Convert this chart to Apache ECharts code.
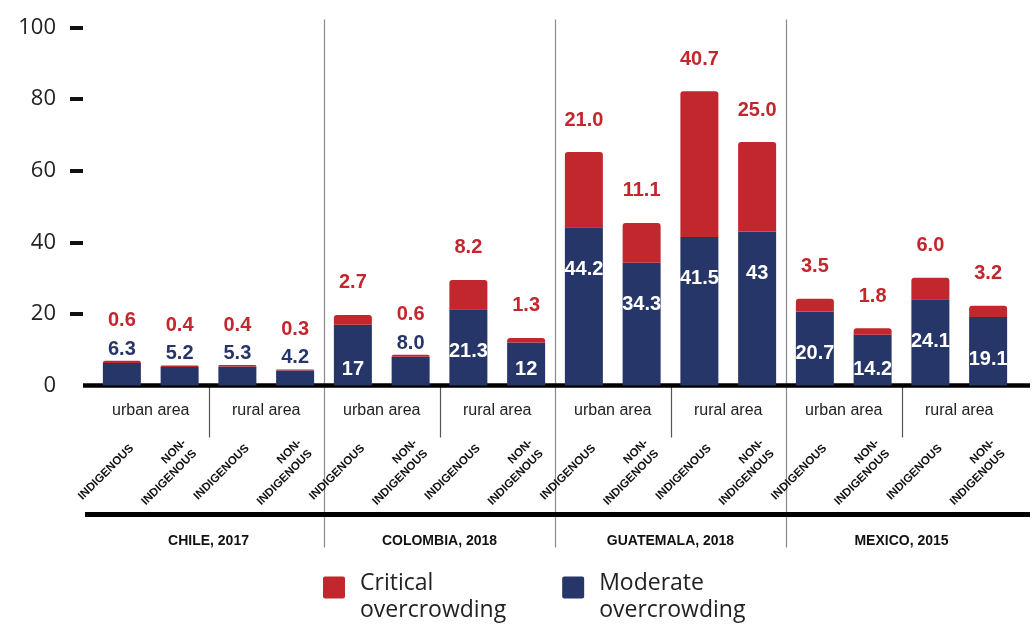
<!DOCTYPE html>
<html>
<head>
<meta charset="utf-8">
<script src="https://cdn.jsdelivr.net/npm/echarts@6/dist/echarts.min.js"></script>
<style>
  html, body { margin: 0; padding: 0; background: #ffffff; }
  #chart { width: 1035px; height: 624px; }
</style>
</head>
<body>
<div id="chart"></div>
<script>
// Households in overcrowded dwellings (%), by country, area and population
const countries = ['CHILE, 2017', 'COLOMBIA, 2018', 'GUATEMALA, 2018', 'MEXICO, 2015'];
const areas = ['urban area', 'rural area'];
const populations = ['INDIGENOUS', 'NON-\nINDIGENOUS'];
// values kept as printed on the bars
const moderate = ['6.3', '5.2', '5.3', '4.2', '17', '8.0', '21.3', '12',
                  '44.2', '34.3', '41.5', '43', '20.7', '14.2', '24.1', '19.1'];
const critical = ['0.6', '0.4', '0.4', '0.3', '2.7', '0.6', '8.2', '1.3',
                  '21.0', '11.1', '40.7', '25.0', '3.5', '1.8', '6.0', '3.2'];
const yTicks = [0, 20, 40, 60, 80, 100];
const seriesNames = ['Critical overcrowding', 'Moderate overcrowding'];

const RED = '#C1272D';
const NAVY = '#273668';
const NARROW = "'Liberation Sans Narrow', 'Liberation Sans', Arial, sans-serif";
const SANS = "'Open Sans', 'Noto Sans', sans-serif";

// legend swatch: rounded square sitting at the top of a taller icon box,
// so the two-line legend text hangs below the swatch's middle
const SWATCH = 'path://M2,0h18a2,2 0 0 1 2,2v18a2,2 0 0 1 -2,2h-18a2,2 0 0 1 -2,-2v-18a2,2 0 0 1 2,-2z' +
               'M0,41h0.01v0.01h-0.01z';

// category keys: one bar per country / area / population
const barKeys = [];
const areaKeys = [];
countries.forEach(c => areas.forEach(a => {
  areaKeys.push(c + '|' + a);
  populations.forEach(p => barKeys.push(c + '|' + a + '|' + p));
}));

const GRID = { top: 27.5, bottom: 238.5, left: 93, right: 18 };

function moderateLabel(s) {
  const v = parseFloat(s);
  if (v < 10) return { position: 'top', distance: 3, color: NAVY };
  if (v < 18) return { position: 'insideBottom', distance: 6, color: '#ffffff' };
  return { position: 'insideTop', distance: 32, color: '#ffffff' };
}

const valueLabel = {
  show: true,
  fontFamily: NARROW,
  fontWeight: 'bold',
  fontSize: 20
};

const chart = echarts.init(document.getElementById('chart'), null, { renderer: 'canvas' });

chart.setOption({
  animation: false,
  backgroundColor: '#ffffff',
  grid: [
    { top: GRID.top, bottom: GRID.bottom, left: GRID.left, right: GRID.right,
      containLabel: false, outerBoundsMode: 'none' },
    { top: GRID.top, bottom: GRID.bottom, left: GRID.left + 10, right: GRID.right - 10,
      containLabel: false, outerBoundsMode: 'none' }
  ],
  legend: {
    data: seriesNames,
    left: 318,
    top: 565,
    itemWidth: 22,
    itemHeight: 41,
    itemGap: 56,
    icon: SWATCH,
    selectedMode: false,
    formatter: n => n.replace(' ', '\n'),
    textStyle: {
      fontFamily: SANS,
      fontSize: 23,
      lineHeight: 27,
      color: '#222222',
      padding: [0, 0, 0, 10]
    }
  },
  xAxis: [
    { // bars
      type: 'category', gridIndex: 0, position: 'bottom', data: barKeys,
      axisLine: { show: false }, axisTick: { show: false }, axisLabel: { show: false }
    },
    { // population labels, rotated
      type: 'category', gridIndex: 1, position: 'bottom', data: barKeys,
      axisLine: { show: false }, axisTick: { show: false },
      axisLabel: {
        interval: 0, rotate: 45, margin: 61,
        fontFamily: NARROW, fontWeight: 'bold', fontSize: 11.5, lineHeight: 15,
        color: '#111111',
        formatter: v => v.split('|')[2]
      }
    },
    { // area labels
      type: 'category', gridIndex: 0, position: 'bottom', data: areaKeys,
      axisLine: { show: false }, axisTick: { show: false },
      axisLabel: {
        interval: 0, margin: 17,
        fontFamily: NARROW, fontSize: 16, color: '#222222',
        formatter: v => v.split('|')[1]
      }
    },
    { // country labels
      type: 'category', gridIndex: 0, position: 'bottom', data: countries,
      axisLine: { show: false }, axisTick: { show: false },
      axisLabel: {
        interval: 0, margin: 149,
        fontFamily: NARROW, fontWeight: 'bold', fontSize: 14, color: '#111111'
      }
    }
  ],
  yAxis: [
    {
      type: 'value', gridIndex: 0, min: 0, max: 100, interval: 20, offset: 10,
      axisLine: { show: false },
      axisTick: {
        show: true, length: 13, customValues: yTicks.slice(1),
        lineStyle: { color: '#111111', width: 4 }
      },
      axisLabel: {
        margin: 27, fontFamily: SANS, fontSize: 22, color: '#222222',
        padding: [0, 0, 8, 0],
        customValues: yTicks
      },
      splitLine: { show: false }
    },
    { type: 'value', gridIndex: 1, min: 0, max: 100, show: false }
  ],
  series: [
    {
      name: seriesNames[1],
      type: 'bar',
      stack: 'total',
      xAxisIndex: 0, yAxisIndex: 0,
      barWidth: 38,
      itemStyle: { color: NAVY },
      label: Object.assign({}, valueLabel, { formatter: p => moderate[p.dataIndex] }),
      data: moderate.map(s => ({ value: parseFloat(s), label: moderateLabel(s) })),
      z: 3
    },
    {
      name: seriesNames[0],
      type: 'bar',
      stack: 'total',
      xAxisIndex: 0, yAxisIndex: 0,
      barWidth: 38,
      itemStyle: { color: RED, borderRadius: [3, 3, 0, 0] },
      label: Object.assign({}, valueLabel, {
        position: 'top', color: RED,
        formatter: p => critical[p.dataIndex]
      }),
      data: critical.map((s, i) => ({
        value: parseFloat(s),
        label: { distance: parseFloat(moderate[i]) < 10 ? 30 : 22 }
      })),
      z: 3
    }
  ]
});

// separators and baselines, placed from the axis scales
function px(i, v) { return chart.convertToPixel({ gridIndex: 0 }, [i, v]); }
const y0 = px(0, 0)[1];
const yTop = px(0, 100)[1];
const boundary = i => (px(i, 0)[0] + px(i + 1, 0)[0]) / 2;
const graphics = [];
const W = chart.getWidth();

graphics.push({
  type: 'line', z: 1,
  shape: { x1: GRID.left - 10, y1: y0, x2: W - 5, y2: y0 },
  style: { stroke: '#000000', lineWidth: 4.5 }
});
graphics.push({
  type: 'line', z: 1,
  shape: { x1: GRID.left - 8, y1: y0 + 129, x2: W - 5, y2: y0 + 129 },
  style: { stroke: '#000000', lineWidth: 5 }
});
const perCountry = areas.length * populations.length;
for (let c = 1; c < countries.length; c++) {
  const x = Math.round(boundary(c * perCountry - 1)) + 0.5;
  graphics.push({
    type: 'line', z: 0,
    shape: { x1: x, y1: yTop - 8, x2: x, y2: y0 + 162 },
    style: { stroke: '#8a8a8a', lineWidth: 1.2 }
  });
}
for (let c = 0; c < countries.length; c++) {
  const x = Math.round(boundary(c * perCountry + populations.length - 1)) + 0.5;
  graphics.push({
    type: 'line', z: 0,
    shape: { x1: x, y1: y0, x2: x, y2: y0 + 52 },
    style: { stroke: '#555555', lineWidth: 1.2 }
  });
}
chart.setOption({ graphic: graphics });
</script>
</body>
</html>
